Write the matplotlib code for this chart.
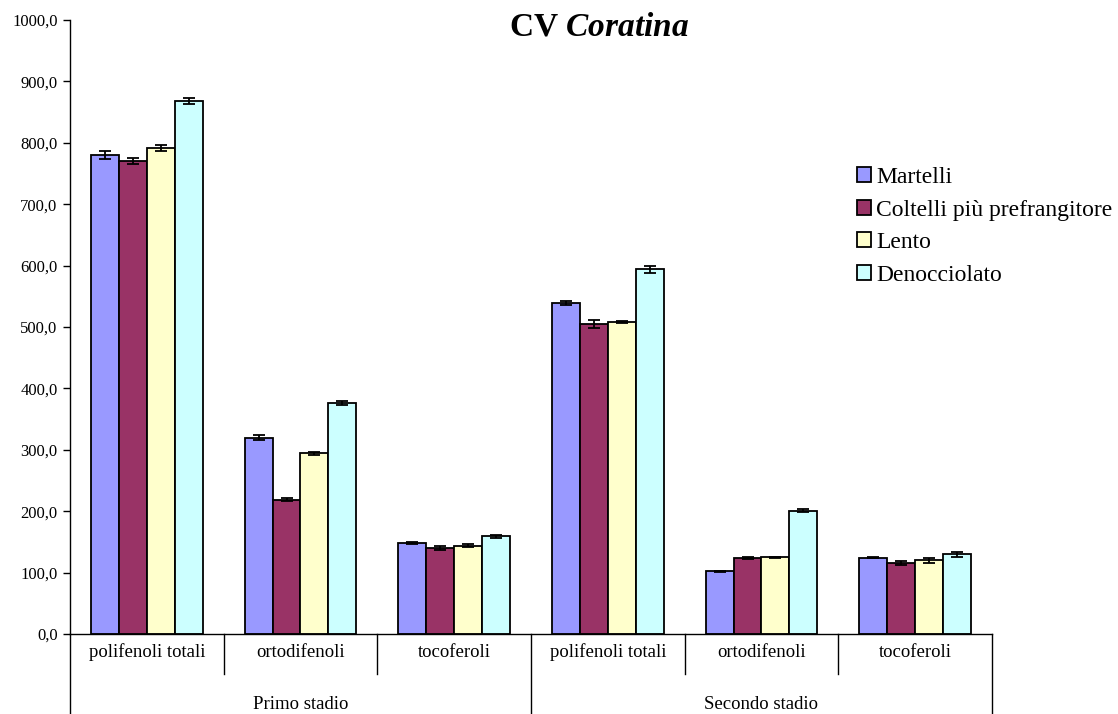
import numpy as np
import matplotlib
matplotlib.use('Agg')
import matplotlib.pyplot as plt

plt.rcParams['font.family'] = ['Liberation Serif', 'DejaVu Serif']
plt.rcParams['mathtext.fontset'] = 'custom'
plt.rcParams['mathtext.it'] = 'Liberation Serif:italic:bold'
plt.rcParams['mathtext.rm'] = 'Liberation Serif:bold'

# data
categories = ['polifenoli totali', 'ortodifenoli', 'tocoferoli',
              'polifenoli totali', 'ortodifenoli', 'tocoferoli']
stages = ['Primo stadio', 'Secondo stadio']
series = ['Martelli', 'Coltelli più prefrangitore', 'Lento', 'Denocciolato']
colors = ['#9999FF', '#993366', '#FFFFCC', '#CCFFFF']

martelli = [780, 320, 148, 539, 102, 124]
coltelli = [770, 219, 140, 505, 124, 116]
lento = [792, 294, 144, 508, 125, 120]
denocciolato = [868, 376, 159, 594, 201, 130]

err_martelli = [6, 4, 2, 3, 1, 1]
err_coltelli = [5, 2, 4, 7, 2, 3]
err_lento = [5, 2, 3, 2, 1, 4]
err_denocciolato = [5, 3, 2, 6, 2, 4]

values = [martelli, coltelli, lento, denocciolato]
errors = [err_martelli, err_coltelli, err_lento, err_denocciolato]

fig = plt.figure(figsize=(11.18, 7.14), dpi=100)
ax = fig.add_axes([70/1118, 80/714, 922/1118, 614/714])

x = np.arange(len(categories))
w = 1/5.5
for i in range(4):
    ax.bar(x+(i-1.5)*w, values[i], width=w, color=colors[i], edgecolor='black',
           linewidth=1.3, label=series[i], zorder=2)
    ax.errorbar(x+(i-1.5)*w, values[i], yerr=errors[i], fmt='none', ecolor='black',
                elinewidth=1.3, capsize=4, capthick=1.3, zorder=3)

ax.set_xlim(-0.5, len(categories)-0.5)
ax.set_ylim(0, 1000)
ax.set_yticks(np.arange(0, 1001, 100))
ax.set_yticklabels([('%.1f' % v).replace('.', ',') for v in np.arange(0, 1001, 100)], fontsize=12)
ax.tick_params(axis='y', direction='out', length=5, width=1, pad=4)
ax.set_xticks([])
ax.spines['top'].set_visible(False)
ax.spines['right'].set_visible(False)
ax.spines['left'].set_linewidth(1)
ax.spines['bottom'].set_linewidth(1)

# two-level category axis
trans = ax.get_xaxis_transform()
for xs in [0.5, 1.5, 3.5, 4.5]:
    ax.plot([xs, xs], [0, -0.065], color='black', lw=1, transform=trans, clip_on=False)
for xs in [-0.5, 2.5, 5.5]:
    ax.plot([xs, xs], [0, -0.135], color='black', lw=1, transform=trans, clip_on=False)
for i, c in enumerate(categories):
    ax.text(i, -0.03, c, transform=trans, ha='center', va='center', fontsize=13.5)
for j, s in enumerate(stages):
    ax.text(3*j+1, -0.115, s, transform=trans, ha='center', va='center', fontsize=13.5)

fig.text(599/1118, 1-27/714, 'CV $\\mathit{Coratina}$', ha='center', va='center',
         fontsize=24, fontweight='bold')

leg = ax.legend(loc='upper left', bbox_to_anchor=(857/1118, 1-167/714),
                bbox_transform=fig.transFigure, frameon=False, fontsize=17,
                handlelength=0.6, handleheight=0.6, handletextpad=0.2,
                labelspacing=0.49, borderpad=0, borderaxespad=0)

fig.savefig('out.png', dpi=100)
